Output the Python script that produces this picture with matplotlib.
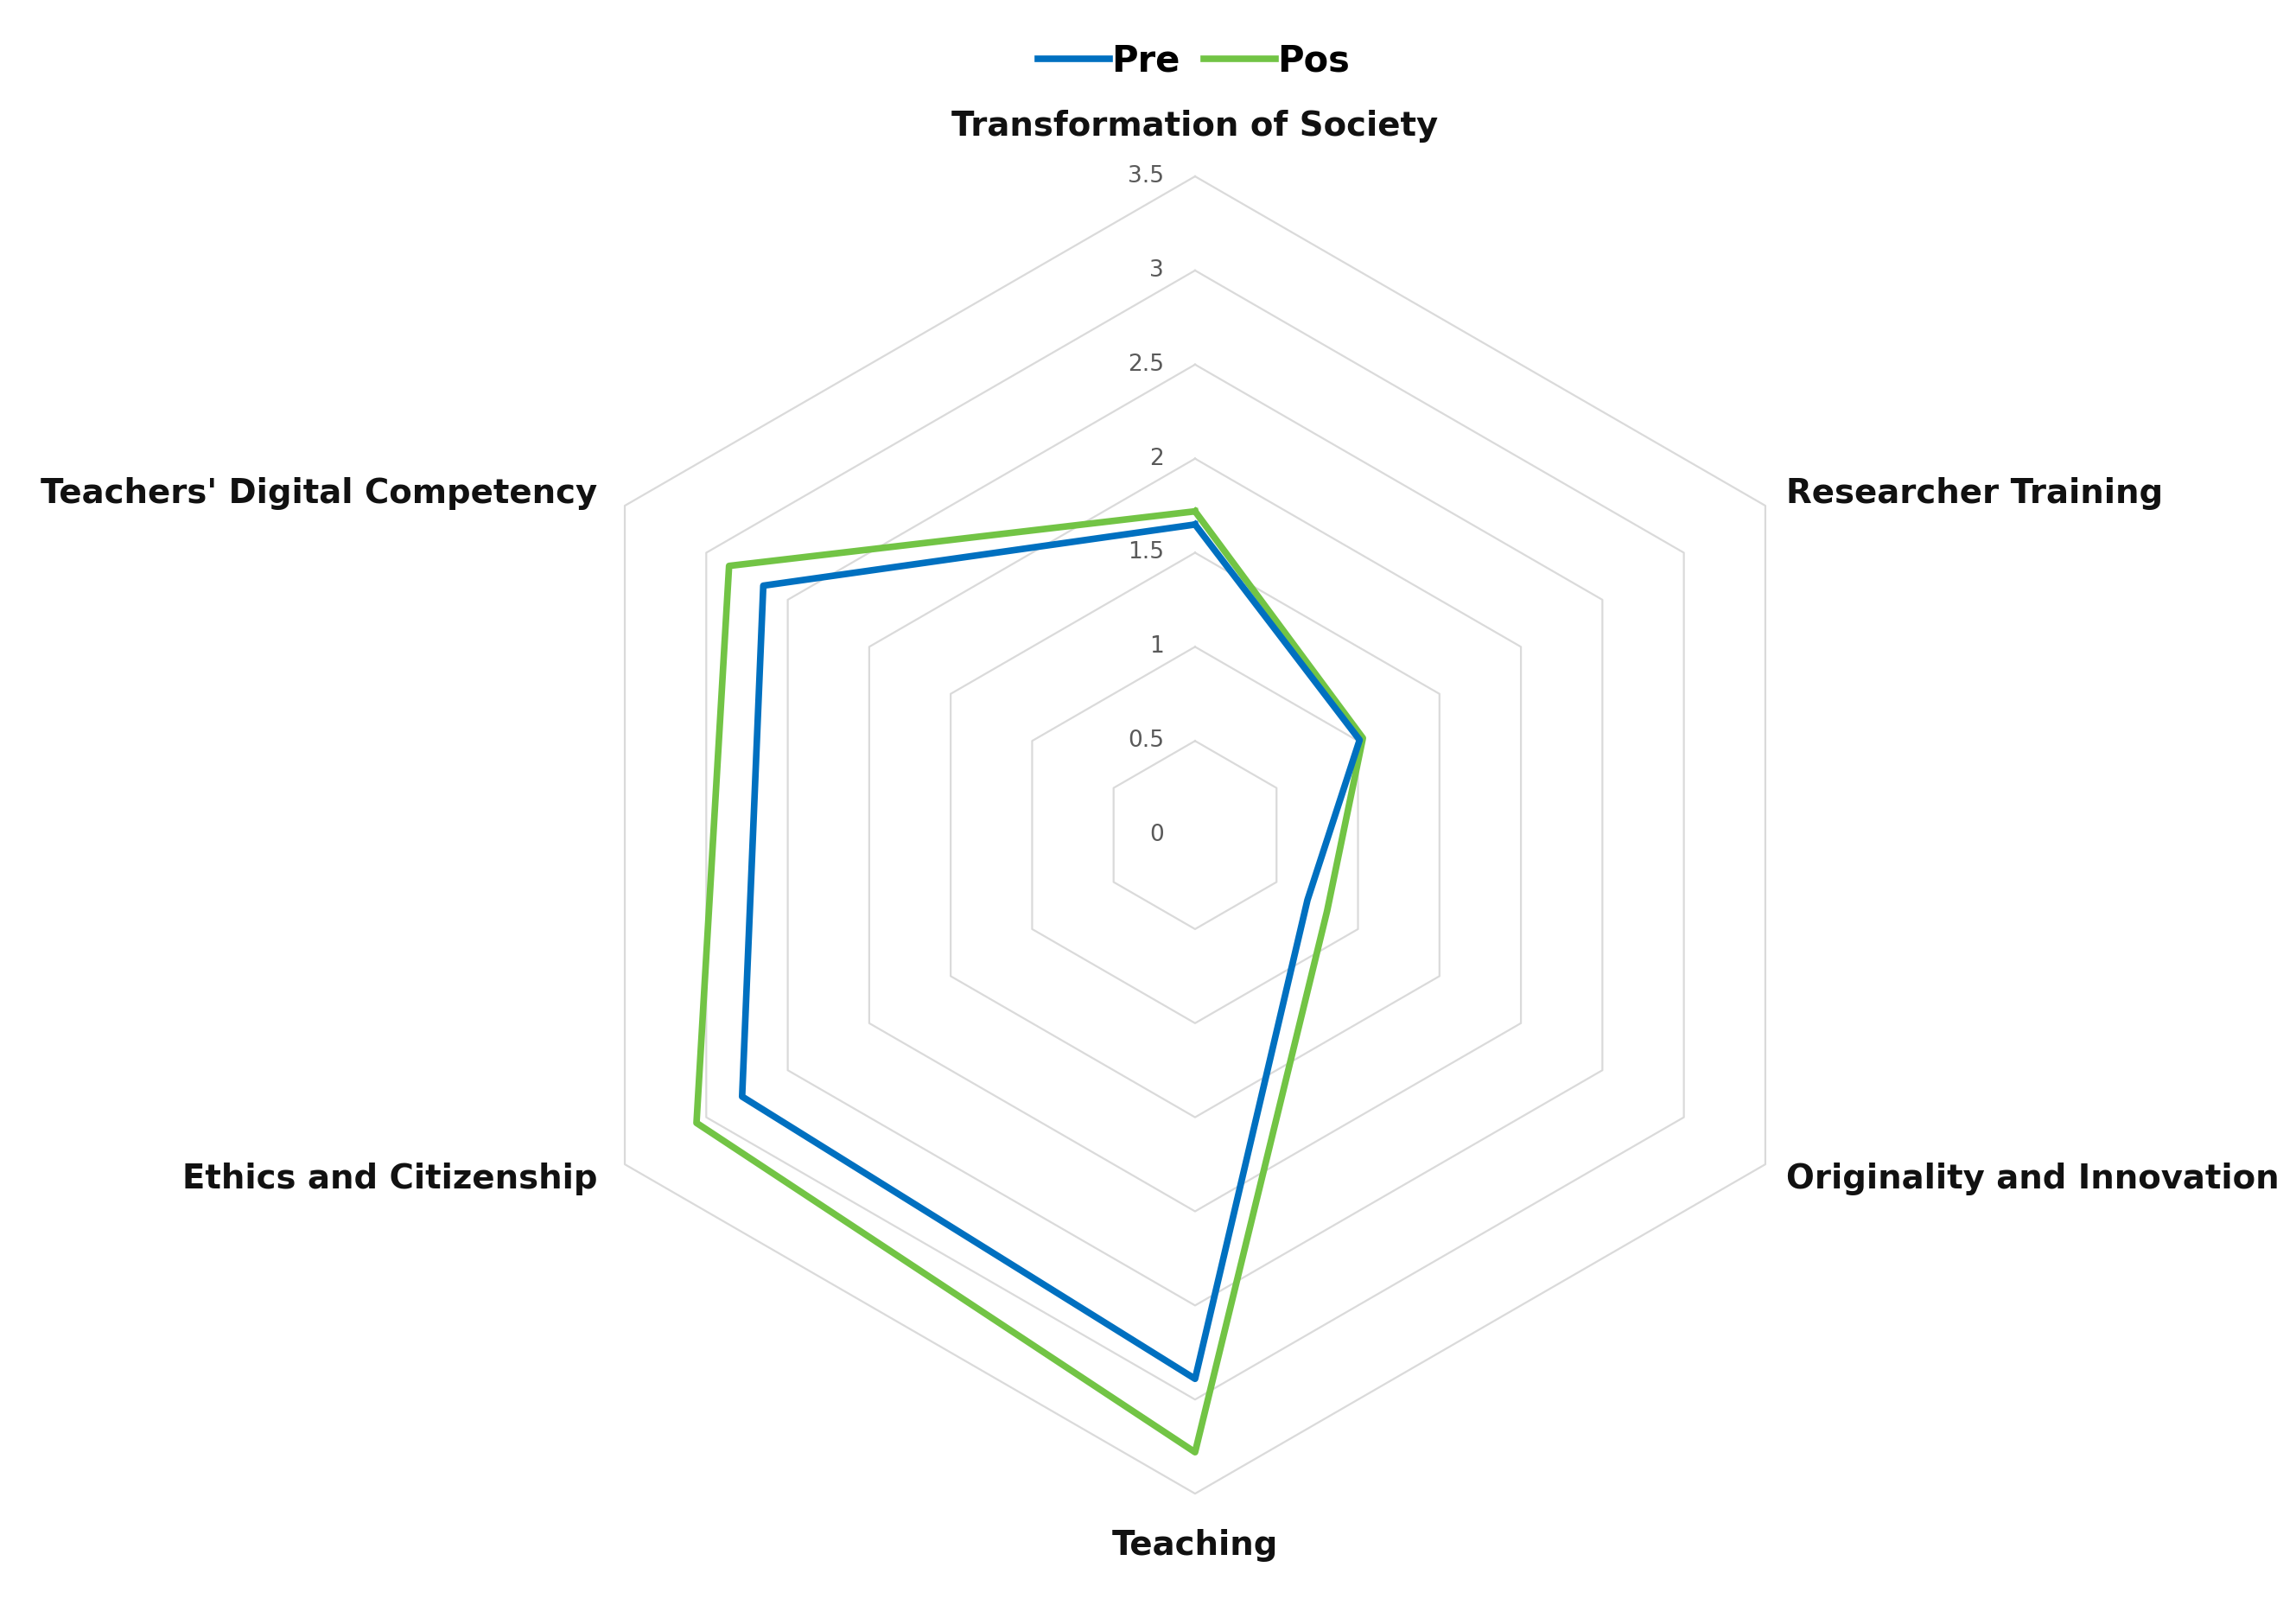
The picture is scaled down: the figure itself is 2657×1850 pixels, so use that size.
import numpy as np
import matplotlib.pyplot as plt

# competencies, clockwise from the top
categories = ["Transformation of Society", "Researcher Training",
              "Originality and Innovation", "Teaching",
              "Ethics and Citizenship", "Teachers' Digital Competency"]
pre = [1.65, 1.01, 0.69, 2.89, 2.78, 2.65]
pos = [1.72, 1.03, 0.81, 3.28, 3.06, 2.86]
levels = [0, 0.5, 1, 1.5, 2, 2.5, 3, 3.5]
level_labels = ["0", "0.5", "1", "1.5", "2", "2.5", "3", "3.5"]

PRE_COLOR = "#0070C0"
POS_COLOR = "#72C445"
GRID_COLOR = "#DADADA"

n = len(categories)
angles = np.linspace(0, 2 * np.pi, n, endpoint=False)
closed = np.append(angles, angles[0])

fig = plt.figure(figsize=(26.57, 18.5), dpi=100)
ax = fig.add_axes([0.2337, 0.0659, 0.5736, 0.8238], projection="polar")
ax.set_theta_offset(np.pi / 2)
ax.set_theta_direction(-1)
ax.set_ylim(0, levels[-1])
ax.grid(False)
ax.spines["polar"].set_visible(False)
ax.set_xticks([])
ax.set_yticks([])
ax.patch.set_alpha(0)

# hexagonal grid
for lv in levels[1:]:
    ax.plot(closed, [lv] * (n + 1), color=GRID_COLOR, lw=1.6, zorder=1, clip_on=False)

# radial value labels on the top spoke
for lv, lab in zip(levels, level_labels):
    ax.annotate(lab, xy=(0, lv), xytext=(-26, 0), textcoords="offset points",
                ha="right", va="center", fontsize=19, color="#595959")

# data
l1, = ax.plot(closed, pre + pre[:1], color=PRE_COLOR, lw=5.5, zorder=3,
              clip_on=False, label="Pre")
l2, = ax.plot(closed, pos + pos[:1], color=POS_COLOR, lw=5.5, zorder=2,
              clip_on=False, label="Pos")

# category labels
offsets = [(0, 42, "center"), (17, 10, "left"), (17, -12, "left"),
           (0, -43, "center"), (-23, -12, "right"), (-23, 10, "right")]
for ang, cat, (dx, dy, ha) in zip(angles, categories, offsets):
    ax.annotate(cat, xy=(ang, levels[-1]), xytext=(dx, dy), textcoords="offset points",
                ha=ha, va="center", fontsize=27.8, fontweight="bold", color="#111111")

fig.legend(handles=[l1, l2], loc="center", bbox_to_anchor=(0.52, 0.962), ncol=2,
           frameon=False, prop={"size": 30, "weight": "bold"},
           handlelength=2.0, handletextpad=0.05, columnspacing=0.65)

fig.savefig("out.png", dpi=100, facecolor="white")
